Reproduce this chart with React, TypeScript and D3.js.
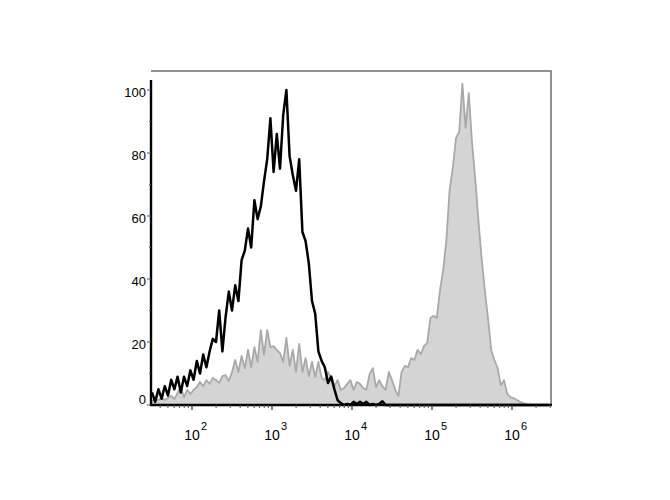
import React, { useEffect, useRef } from 'react';
import * as d3 from 'd3';

// histogram channels: bin i sits at 10^(BIN_START + i * BIN_STEP)
const BIN_START = 1.5;
const BIN_STEP = 0.04;

// unstained / isotype control (black outline)
const controlCounts = [
    4, 1, 5, 2, 6, 3, 8, 5, 9, 4, 9, 6, 11, 8, 14, 10, 16, 12, 17, 21,
    20, 30, 17, 28, 36, 30, 38, 33, 46, 49, 56, 50, 65, 59, 63, 71, 78, 91, 74, 86,
    75, 92, 100, 79, 73, 68, 78, 55, 52, 45, 33, 29, 17, 14, 12, 7, 9, 5, 1.5, 0.6,
    0, 0.3, 0, 1, 0.3, 1, 0.3, 1, 0, 0.3, 0, 0.3, 1.2, 0, 0, 0, 0, 0, 0, 0,
    0, 0, 0, 0, 0, 0, 0, 0, 0, 0, 0, 0, 0, 0, 0, 0, 0, 0, 0, 0,
    0, 0, 0, 0, 0, 0, 0, 0, 0, 0, 0, 0, 0, 0, 0, 0, 0, 0, 0, 0,
    0, 0, 0, 0, 0
];

// stained sample (grey filled)
const stainedCounts = [
    1.3, 1.6, 1.6, 2.2, 1.6, 2.2, 2.9, 1.9, 3.8, 5.7, 2.5, 4.8, 3.5, 4.8, 5.7, 7.3, 6, 7.9, 6.7, 8.6,
    7.9, 7, 9.2, 9.5, 7.6, 10.5, 14.3, 10.5, 15.6, 11.7, 17.5, 12, 18.4, 13.7, 23.8, 15.9, 23.8, 18.4, 18.7, 17.5,
    16.5, 13.7, 21.3, 12.4, 17.5, 10.5, 19.4, 10.5, 14.9, 9.2, 13.7, 8.9, 13.7, 8.6, 7.9, 10.5, 8.6, 6, 7.9, 4.8,
    5.4, 6.7, 7.9, 4.8, 7.3, 6.7, 5.4, 4.8, 9.8, 11.7, 5.7, 7.9, 6, 4.8, 10.5, 7.9, 4.8, 2.9, 10.5, 12.4,
    12, 14.9, 14.3, 17.5, 16.2, 18.7, 19.7, 27.6, 28.3, 27.6, 36.5, 42.9, 52.4, 68.3, 75.2, 84.8, 86.7, 102, 88, 99,
    83.5, 72, 58.7, 46.7, 36.5, 27.6, 17.5, 14.3, 11.7, 6.3, 7.9, 3.5, 2.5, 2.2, 1.6, 1, 0.6, 0.3, 0, 0,
    0, 0, 0, 0, 0
];

const yTicks = [0, 20, 40, 60, 80, 100];
const xDecades = [2, 3, 4, 5, 6];

const WIDTH = 670;
const HEIGHT = 500;
const LEFT = 151;
const RIGHT = 551;
const TOP = 71;
const BOTTOM = 405;

const App: React.FC = () => {
    const svgRef = useRef<SVGSVGElement>(null);

    useEffect(() => {
        if (!svgRef.current) return;
        const svg = d3.select(svgRef.current);
        svg.selectAll('*').remove();

        const xScale = d3.scaleLog()
            .domain([Math.pow(10, 1.4875), Math.pow(10, 6.4875)])
            .range([LEFT, RIGHT]);

        const yScale = d3.scaleLinear()
            .domain([0, 100])
            .range([BOTTOM, 90]);

        const binX = (i: number) => xScale(Math.pow(10, BIN_START + i * BIN_STEP));

        // stained histogram, filled
        const area = d3.area<number>()
            .x((_, i) => binX(i))
            .y0(BOTTOM)
            .y1(d => yScale(d));

        const line = d3.line<number>()
            .x((_, i) => binX(i))
            .y(d => yScale(d));

        svg.append('path')
            .datum(stainedCounts)
            .attr('d', area)
            .attr('fill', '#d4d4d4');

        svg.append('path')
            .datum(stainedCounts)
            .attr('d', line)
            .attr('fill', 'none')
            .attr('stroke', '#a9a9a9')
            .attr('stroke-width', 1.8)
            .attr('stroke-linejoin', 'round');

        // control histogram, black outline
        svg.append('path')
            .datum(controlCounts)
            .attr('d', line)
            .attr('fill', 'none')
            .attr('stroke', '#000')
            .attr('stroke-width', 2.5)
            .attr('stroke-linejoin', 'round');

        // frame: grey top/right, heavy black left/bottom
        svg.append('path')
            .attr('d', `M${LEFT},${TOP}H${RIGHT}V${BOTTOM}`)
            .attr('fill', 'none')
            .attr('stroke', '#6e6e6e')
            .attr('stroke-width', 1.5);

        svg.append('line')
            .attr('x1', LEFT).attr('x2', LEFT)
            .attr('y1', 80).attr('y2', BOTTOM + 1)
            .attr('stroke', '#000')
            .attr('stroke-width', 2.4);

        svg.append('line')
            .attr('x1', LEFT - 1).attr('x2', RIGHT + 1)
            .attr('y1', BOTTOM).attr('y2', BOTTOM)
            .attr('stroke', '#000')
            .attr('stroke-width', 2.4);

        // y ticks and labels
        const yMinor = d3.range(0, 101, 10);
        svg.append('g')
            .selectAll('line')
            .data(yMinor)
            .enter()
            .append('line')
            .attr('x1', d => (d % 20 === 0 ? LEFT - 4 : LEFT - 2))
            .attr('x2', LEFT)
            .attr('y1', d => yScale(d))
            .attr('y2', d => yScale(d))
            .attr('stroke', '#555')
            .attr('stroke-width', 1);

        svg.append('g')
            .selectAll('text')
            .data(yTicks)
            .enter()
            .append('text')
            .attr('x', LEFT - 5)
            .attr('y', d => yScale(d) + (d === 0 ? -1 : 7))
            .attr('text-anchor', 'end')
            .attr('font-family', 'Arial, "Liberation Sans", sans-serif')
            .attr('font-size', 13)
            .attr('fill', '#000')
            .text(d => String(d));

        // x ticks: decades and minor ticks
        const minor: number[] = [];
        for (let e = 1; e <= 6; e++) {
            for (let m = 2; m <= 9; m++) {
                const v = m * Math.pow(10, e);
                if (xScale(v) > LEFT && xScale(v) < RIGHT) minor.push(v);
            }
        }
        svg.append('g')
            .selectAll('line')
            .data(minor)
            .enter()
            .append('line')
            .attr('x1', d => xScale(d))
            .attr('x2', d => xScale(d))
            .attr('y1', BOTTOM)
            .attr('y2', BOTTOM + 3)
            .attr('stroke', '#555')
            .attr('stroke-width', 1);

        svg.append('g')
            .selectAll('line')
            .data(xDecades)
            .enter()
            .append('line')
            .attr('x1', d => xScale(Math.pow(10, d)))
            .attr('x2', d => xScale(Math.pow(10, d)))
            .attr('y1', BOTTOM)
            .attr('y2', BOTTOM + 5)
            .attr('stroke', '#333')
            .attr('stroke-width', 1.2);

        const labels = svg.append('g')
            .selectAll('g')
            .data(xDecades)
            .enter()
            .append('g')
            .attr('transform', d => `translate(${xScale(Math.pow(10, d))},0)`);

        labels.append('text')
            .attr('x', 0)
            .attr('y', 440)
            .attr('text-anchor', 'middle')
            .attr('font-family', 'Arial, "Liberation Sans", sans-serif')
            .attr('font-size', 14)
            .attr('fill', '#000')
            .text('10');

        labels.append('text')
            .attr('x', 9)
            .attr('y', 430)
            .attr('text-anchor', 'start')
            .attr('font-family', 'Arial, "Liberation Sans", sans-serif')
            .attr('font-size', 11)
            .attr('fill', '#000')
            .text(d => String(d));
    }, []);

    return (
        <svg
            ref={svgRef}
            width={WIDTH}
            height={HEIGHT}
            style={{ position: 'absolute', left: 0, top: 0, background: '#fff' }}
        />
    );
};

export default App;
